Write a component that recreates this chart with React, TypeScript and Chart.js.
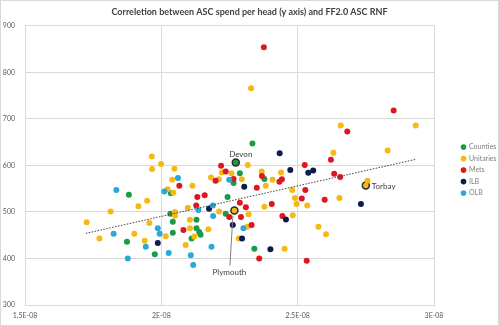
import React, { useEffect, useRef } from "react";
import { Chart, registerables } from "chart.js";

Chart.register(...registerables);

const FONT = "Lato, 'Open Sans', sans-serif";
const titleText = "Correletion between ASC spend per head (y axis) and FF2.0 ASC RNF";

const seriesNames = ["Counties", "Unitaries", "Mets", "ILB", "OLB"];
const seriesColors = ["#1a9b48", "#f5b914", "#e0161f", "#0d1b4f", "#2aa8d8"];

const xTickValues = [1.5e-8, 2e-8, 2.5e-8, 3e-8];
const xTickLabels = ["1.5E-08", "2E-08", "2.5E-08", "3E-08"];
const yTickValues = [300, 400, 500, 600, 700, 800, 900];

const counties: [number, number][] = [
  [1.881e-8, 537], [2.035e-8, 540], [2.033e-8, 496], [1.874e-8, 436], [2.042e-8, 455],
  [1.976e-8, 409], [2.334e-8, 647], [2.273e-8, 606], [2.288e-8, 583], [2.265e-8, 562],
  [2.378e-8, 571], [2.243e-8, 532], [2.236e-8, 496], [2.129e-8, 483], [2.042e-8, 479],
  [2.129e-8, 465], [2.139e-8, 457], [2.144e-8, 451], [2.111e-8, 443], [2.341e-8, 421],
];

const unitaries: [number, number][] = [
  [1.965e-8, 619], [1.999e-8, 603], [1.966e-8, 592], [2.048e-8, 593], [2.04e-8, 569],
  [1.948e-8, 524], [1.916e-8, 512], [2.023e-8, 549], [2.044e-8, 541], [1.814e-8, 501],
  [1.726e-8, 478], [1.773e-8, 443], [1.901e-8, 453], [1.939e-8, 438], [1.956e-8, 476],
  [2.016e-8, 448], [2.05e-8, 500], [2.05e-8, 492], [2.317e-8, 601], [2.222e-8, 585],
  [2.257e-8, 583], [2.114e-8, 556], [2.182e-8, 574], [2.211e-8, 570], [2.295e-8, 570],
  [2.368e-8, 587], [2.383e-8, 556], [2.408e-8, 569], [2.439e-8, 585], [2.48e-8, 547],
  [2.097e-8, 509], [2.268e-8, 503], [2.378e-8, 511], [2.496e-8, 517], [2.535e-8, 514],
  [2.212e-8, 501], [2.32e-8, 495], [2.482e-8, 493], [2.105e-8, 483], [2.105e-8, 465],
  [2.121e-8, 447], [2.172e-8, 463], [2.089e-8, 429], [2.284e-8, 443], [2.315e-8, 468],
  [2.452e-8, 421], [2.329e-8, 766], [2.933e-8, 686], [2.658e-8, 686], [2.83e-8, 632],
  [2.631e-8, 627], [2.75e-8, 557], [2.756e-8, 567], [2.653e-8, 530], [2.49e-8, 530],
  [2.576e-8, 468], [2.604e-8, 452],
];

const mets: [number, number][] = [
  [2.066e-8, 556], [2.219e-8, 599], [2.236e-8, 587], [2.199e-8, 567], [2.265e-8, 571],
  [2.35e-8, 552], [2.369e-8, 577], [2.433e-8, 565], [2.442e-8, 570], [2.526e-8, 601],
  [2.528e-8, 547], [2.159e-8, 536], [2.132e-8, 532], [2.128e-8, 514], [2.288e-8, 520],
  [2.31e-8, 510], [2.405e-8, 517], [2.515e-8, 529], [2.292e-8, 489], [2.249e-8, 489],
  [2.444e-8, 491], [2.081e-8, 461], [2.331e-8, 472], [2.359e-8, 400], [2.533e-8, 395],
  [2.852e-8, 718], [2.682e-8, 673], [2.622e-8, 612], [2.634e-8, 582], [2.656e-8, 575],
  [2.599e-8, 526], [2.376e-8, 854],
];

const ilb: [number, number][] = [
  [1.987e-8, 433], [2.434e-8, 626], [2.304e-8, 554], [2.473e-8, 590], [2.539e-8, 584],
  [2.557e-8, 589], [2.175e-8, 507], [2.262e-8, 472], [2.457e-8, 484], [2.296e-8, 443],
  [2.4e-8, 420], [2.732e-8, 517],
];

const olb: [number, number][] = [
  [2.061e-8, 573], [1.835e-8, 547], [2.011e-8, 544], [1.825e-8, 453], [1.943e-8, 425],
  [1.987e-8, 465], [1.994e-8, 453], [2.027e-8, 412], [1.877e-8, 400], [2.249e-8, 569],
  [2.189e-8, 514], [2.136e-8, 504], [2.19e-8, 491], [2.184e-8, 425], [2.301e-8, 465],
  [2.108e-8, 407], [2.117e-8, 386],
];

const seriesData = [counties, unitaries, mets, ilb, olb];

const trendX = [1.723e-8, 2.933e-8];
const trendY = [454, 613];

const labelledNames = ["Devon", "Plymouth", "Torbay"];
const labelledSeries = [0, 1, 1];
const labelledX = [2.273e-8, 2.268e-8, 2.75e-8];
const labelledY = [606, 503, 557];

function isLabelled(series: number, x: number, y: number) {
  for (let i = 0; i < labelledNames.length; i++) {
    if (labelledSeries[i] === series && labelledX[i] === x && labelledY[i] === y) return true;
  }
  return false;
}

const labelPlugin = {
  id: "pointLabels",
  afterDatasetsDraw(chart: any) {
    const { ctx, scales } = chart;
    ctx.save();
    ctx.font = `8px ${FONT}`;
    ctx.fillStyle = "#404040";
    for (let i = 0; i < labelledNames.length; i++) {
      const px = scales.x.getPixelForValue(labelledX[i]);
      const py = scales.y.getPixelForValue(labelledY[i]);
      const name = labelledNames[i];
      if (name === "Devon") {
        ctx.textAlign = "center";
        ctx.textBaseline = "middle";
        ctx.fillText(name, px + 5, py - 8);
      } else if (name === "Torbay") {
        ctx.textAlign = "left";
        ctx.textBaseline = "middle";
        ctx.fillText(name, px + 6, py + 1);
      } else {
        ctx.strokeStyle = "#7f7f7f";
        ctx.lineWidth = 1;
        ctx.beginPath();
        ctx.moveTo(px - 1.5, py + 5);
        ctx.lineTo(px - 4.5, py + 55);
        ctx.stroke();
        ctx.textAlign = "center";
        ctx.textBaseline = "middle";
        ctx.fillText(name, px - 5, py + 62);
      }
    }
    ctx.restore();
  },
};

const borderPlugin = {
  id: "outerBorder",
  afterDraw(chart: any) {
    const { ctx, width, height } = chart;
    ctx.save();
    ctx.strokeStyle = "#d9d9d9";
    ctx.lineWidth = 1;
    ctx.strokeRect(0.5, 0.5, width - 1, height - 1);
    ctx.restore();
  },
  beforeDraw(chart: any) {
    const { ctx, width, height } = chart;
    ctx.save();
    ctx.fillStyle = "#ffffff";
    ctx.fillRect(0, 0, width, height);
    ctx.restore();
  },
};

export default function App() {
  const ref = useRef<HTMLCanvasElement>(null);

  useEffect(() => {
    document.body.style.margin = "0";
    const datasets: any[] = [
      {
        label: "Trend",
        data: trendX.map((x, i) => ({ x, y: trendY[i] })),
        showLine: true,
        pointRadius: 0,
        borderColor: "#404040",
        borderWidth: 1,
        borderDash: [1.5, 1.5],
        yAxisID: "y",
        order: 0,
      },
    ];
    seriesNames.forEach((name, s) => {
      const pts = seriesData[s];
      datasets.push({
        label: name,
        data: pts.map(([x, y]) => ({ x, y })),
        backgroundColor: seriesColors[s],
        pointBackgroundColor: seriesColors[s],
        pointBorderColor: (c: any) => {
          const p = pts[c.dataIndex];
          return p && isLabelled(s, p[0], p[1]) ? "#2b2b2b" : seriesColors[s];
        },
        pointBorderWidth: (c: any) => {
          const p = pts[c.dataIndex];
          return p && isLabelled(s, p[0], p[1]) ? 1.5 : 0;
        },
        pointRadius: (c: any) => {
          const p = pts[c.dataIndex];
          return p && isLabelled(s, p[0], p[1]) ? 3.5 : 3;
        },
        pointStyle: "circle",
        yAxisID: "y",
        order: 10 - s,
      });
    });

    const chart = new Chart(ref.current as HTMLCanvasElement, {
      type: "scatter",
      data: { datasets },
      plugins: [borderPlugin, labelPlugin],
      options: {
        responsive: false,
        animation: false,
        devicePixelRatio: 1,
        layout: { padding: { left: 0, right: 0, top: 0, bottom: 0 } },
        plugins: {
          title: {
            display: true,
            text: titleText,
            color: "#404040",
            font: { family: FONT, size: 9, weight: "bold" },
            padding: { top: 7, bottom: 8 },
          },
          legend: {
            position: "right",
            align: "center",
            maxWidth: 42,
            title: { display: true, text: " ", font: { size: 1 }, padding: { top: 0, bottom: 13 } },
            labels: {
              usePointStyle: true,
              pointStyle: "circle",
              boxWidth: 4,
              boxHeight: 4,
              padding: 4.5,
              color: "#7f7f7f",
              font: { family: FONT, size: 7 },
              filter: (item: any) => item.text !== "Trend",
              sort: (a: any, b: any) => a.datasetIndex - b.datasetIndex,
            },
          },
          tooltip: { enabled: false },
        },
        scales: {
          x: {
            type: "linear",
            min: xTickValues[0],
            max: xTickValues[xTickValues.length - 1],
            afterBuildTicks: (axis: any) => {
              axis.ticks = xTickValues.map((v) => ({ value: v }));
            },
            afterFit: (scale: any) => {
              scale.height = 21;
            },
            grid: { color: "#d9d9d9", drawTicks: false },
            border: { color: "#d9d9d9" },
            ticks: {
              padding: 7,
              color: "#595959",
              font: { family: FONT, size: 7 },
              maxRotation: 0,
              autoSkip: false,
              callback: (_v: any, i: number) => xTickLabels[i],
            },
          },
          y: {
            type: "linear",
            position: "left",
            min: yTickValues[0],
            max: yTickValues[yTickValues.length - 1],
            afterBuildTicks: (axis: any) => {
              axis.ticks = yTickValues.map((v) => ({ value: v }));
            },
            afterFit: (scale: any) => {
              scale.width = 25;
            },
            grid: { color: "#d9d9d9", drawTicks: false },
            border: { color: "#d9d9d9" },
            ticks: {
              padding: 10,
              color: "#595959",
              font: { family: FONT, size: 7 },
              callback: (v: any) => String(v),
            },
          },
          yRight: {
            type: "linear",
            position: "right",
            display: true,
            grid: { display: false, drawTicks: false },
            border: { display: false },
            ticks: { display: false },
            afterFit: (scale: any) => {
              scale.width = 23;
            },
          },
        },
      } as any,
    });
    return () => chart.destroy();
  }, []);

  return (
    <div style={{ width: 499, height: 326 }}>
      <canvas ref={ref} width={499} height={326} style={{ display: "block" }} />
    </div>
  );
}
